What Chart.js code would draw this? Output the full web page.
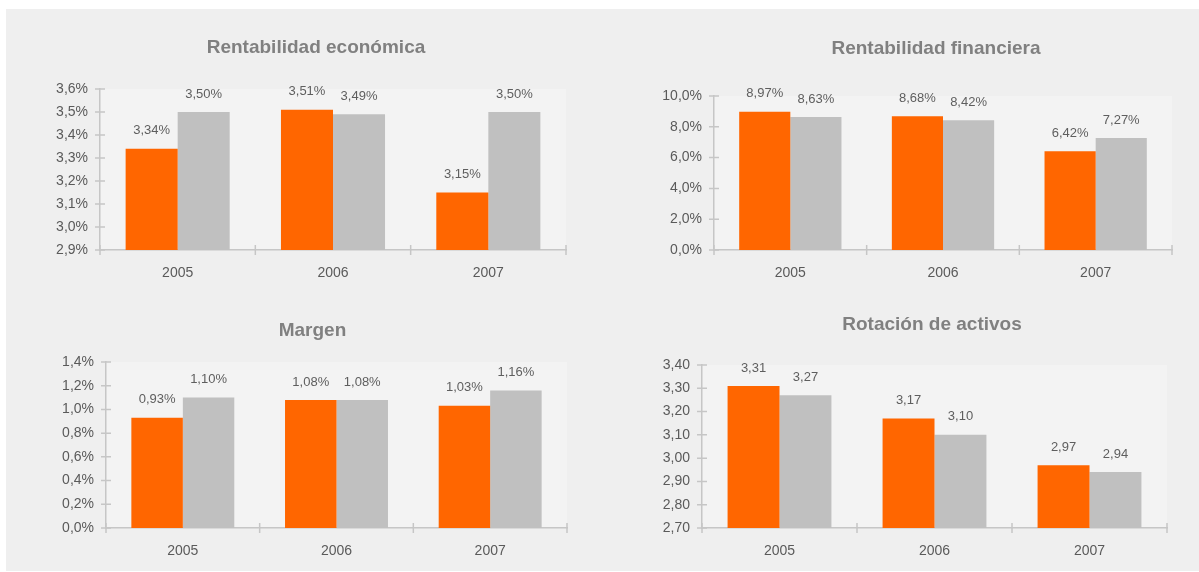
<!DOCTYPE html>
<html><head><meta charset="utf-8">
<script src="https://cdn.jsdelivr.net/npm/chart.js@4.4.1/dist/chart.umd.min.js"></script>
<style>
html,body{margin:0;padding:0;width:1199px;height:572px;overflow:hidden;background:#ffffff;}
#bg{position:absolute;left:6px;top:9px;width:1193px;height:562px;background:#efefef;}
canvas{position:absolute;}
</style></head><body>
<div id="bg"></div>
<canvas id="c1" width="600" height="290" style="left:0px;top:0px"></canvas>
<canvas id="c2" width="599" height="290" style="left:600px;top:0px"></canvas>
<canvas id="c3" width="600" height="282" style="left:0px;top:290px"></canvas>
<canvas id="c4" width="599" height="282" style="left:600px;top:290px"></canvas>
<script>
// ---- data ----
const years = ['2005', '2006', '2007'];

const economicaTitle = 'Rentabilidad económica';
const economicaA = [3.34, 3.51, 3.15];
const economicaB = [3.50, 3.49, 3.50];
const economicaTicks = [2.9, 3.0, 3.1, 3.2, 3.3, 3.4, 3.5, 3.6];

const financieraTitle = 'Rentabilidad financiera';
const financieraA = [8.97, 8.68, 6.42];
const financieraB = [8.63, 8.42, 7.27];
const financieraTicks = [0, 2, 4, 6, 8, 10];

const margenTitle = 'Margen';
const margenA = [0.93, 1.08, 1.03];
const margenB = [1.10, 1.08, 1.16];
const margenTicks = [0, 0.2, 0.4, 0.6, 0.8, 1.0, 1.2, 1.4];

const rotacionTitle = 'Rotación de activos';
const rotacionA = [3.31, 3.17, 2.97];
const rotacionB = [3.27, 3.10, 2.94];
const rotacionTicks = [2.7, 2.8, 2.9, 3.0, 3.1, 3.2, 3.3, 3.4];

// ---- styling ----
const FONT = "'Liberation Sans', Arial, Helvetica, sans-serif";
const ORANGE = '#ff6600';
const GREY = '#c0c0c0';
const AXIS = '#c6c6c6';
const TEXT = '#5a5a5a';

function fmt(v, dec, pct) {
  return v.toFixed(dec).replace('.', ',') + (pct ? '%' : '');
}

const decor = {
  id: 'decor',
  beforeDraw(chart) {
    const a = chart.chartArea, ctx = chart.ctx;
    ctx.save();
    ctx.fillStyle = '#f3f3f3';
    ctx.fillRect(a.left, a.top, a.right - a.left, a.bottom - a.top);
    ctx.restore();
  },
  afterDatasetsDraw(chart) {
    const ctx = chart.ctx;
    const o = chart.options.plugins.decor;
    ctx.save();
    ctx.font = '13px ' + FONT;
    ctx.fillStyle = '#5e5e5e';
    ctx.textAlign = 'center';
    ctx.textBaseline = 'middle';
    chart.data.datasets.forEach((ds, i) => {
      chart.getDatasetMeta(i).data.forEach((bar, j) => {
        ctx.fillText(fmt(ds.data[j], 2, o.pct), bar.x, bar.y - 18);
      });
    });
    ctx.restore();
  },
  afterDraw(chart) {
    const ctx = chart.ctx;
    const o = chart.options.plugins.decor;
    const x = chart.scales.x, y = chart.scales.y;
    ctx.save();
    ctx.strokeStyle = AXIS;
    ctx.lineWidth = 1.5;
    ctx.beginPath();
    y.ticks.forEach(t => {
      const py = y.getPixelForValue(t.value);
      ctx.moveTo(x.left - 5, py); ctx.lineTo(x.left + 5, py);
    });
    const n = x.ticks.length;
    for (let i = 0; i <= n; i++) {
      const px = x.left + (x.right - x.left) * i / n;
      ctx.moveTo(px, y.bottom - 5); ctx.lineTo(px, y.bottom + 5);
    }
    ctx.stroke();
    // chart title
    ctx.font = 'bold 19px ' + FONT;
    ctx.fillStyle = '#808080';
    ctx.textAlign = 'center';
    ctx.textBaseline = 'middle';
    ctx.fillText(o.title, o.tx, o.ty);
    ctx.restore();
  }
};

function makeChart(id, title, a, b, ticks, dec, pct, g) {
  new Chart(document.getElementById(id), {
    type: 'bar',
    data: {
      labels: years,
      datasets: [
        { data: a, backgroundColor: ORANGE, base: ticks[0] },
        { data: b, backgroundColor: GREY, base: ticks[0] }
      ]
    },
    options: {
      responsive: false,
      animation: false,
      events: [],
      categoryPercentage: 0.67,
      barPercentage: 1.0,
      layout: { padding: { left: 0, right: g.pr, top: g.pt, bottom: g.pb } },
      plugins: {
        legend: { display: false },
        tooltip: { enabled: false },
        title: { display: false },
        decor: { pct: pct, title: title, tx: g.tx, ty: g.ty }
      },
      scales: {
        x: {
          grid: { display: false, drawTicks: false },
          border: { display: true, color: AXIS, width: 1.5 },
          ticks: { color: TEXT, font: { family: FONT, size: 14 }, padding: 14.6 },
          afterFit: s => { s.height = 40; }
        },
        y: {
          min: ticks[0], max: ticks[ticks.length - 1],
          grid: { display: false, drawTicks: false },
          border: { display: true, color: AXIS, width: 1.5 },
          ticks: {
            color: TEXT, font: { family: FONT, size: 14 }, padding: 12,
            callback: v => fmt(v, dec, pct)
          },
          afterBuildTicks: s => { s.ticks = ticks.map(v => ({ value: v })); },
          afterFit: s => { s.width = g.yw; }
        }
      }
    },
    plugins: [decor]
  });
}

makeChart('c1', economicaTitle, economicaA, economicaB, economicaTicks, 1, true,
  { pr: 34, pt: 89, pb: 0, yw: 100, tx: 316, ty: 48 });
makeChart('c2', financieraTitle, financieraA, financieraB, financieraTicks, 1, true,
  { pr: 27, pt: 96, pb: 0, yw: 114, tx: 336, ty: 49 });
makeChart('c3', margenTitle, margenA, margenB, margenTicks, 1, true,
  { pr: 33, pt: 72, pb: 4, yw: 106, tx: 312.5, ty: 41 });
makeChart('c4', rotacionTitle, rotacionA, rotacionB, rotacionTicks, 2, false,
  { pr: 32, pt: 75, pb: 4, yw: 102, tx: 332, ty: 35 });
</script>
</body></html>
